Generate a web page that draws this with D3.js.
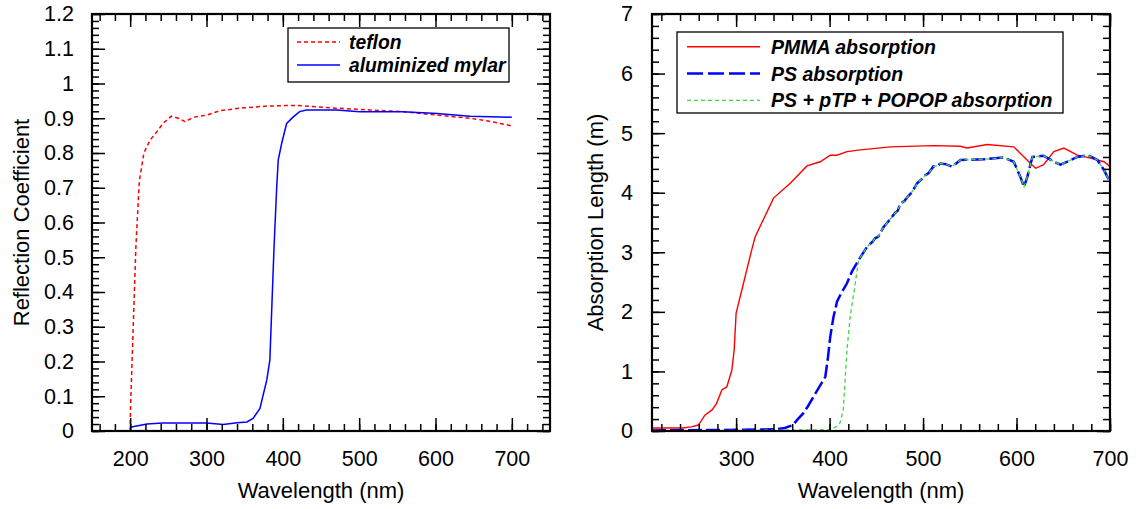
<!DOCTYPE html>
<html>
<head>
<meta charset="utf-8">
<script src="https://cdn.jsdelivr.net/npm/d3@7"></script>
<style>
  body { margin: 0; background: #fff; }
  svg text { font-family: "Liberation Sans", Arial, sans-serif; fill: #000; }
</style>
</head>
<body>
<svg id="chart" width="1139" height="509"></svg>
<script>
// ---- data ----
// left panel: reflection coefficient vs wavelength
const teflon = [
  [200, 0.0], [200.5, 0.07], [207.5, 0.53], [212, 0.72], [218, 0.80], [226, 0.837],
  [235, 0.861], [243, 0.885], [254, 0.906], [263, 0.90], [272, 0.89], [283, 0.903],
  [300, 0.909], [318, 0.922], [344, 0.929], [379, 0.935], [410, 0.937], [426, 0.936],
  [470, 0.929], [514, 0.924], [557, 0.919], [602, 0.909], [645, 0.90], [667, 0.893], [700, 0.878]
]
const mylar = [
  [200, 0.011], [222, 0.02], [243, 0.023], [300, 0.023], [322, 0.019], [340, 0.024],
  [353, 0.026], [361, 0.036], [370, 0.065], [379, 0.147], [383, 0.204], [388.5, 0.53],
  [392, 0.703], [394, 0.78], [398.5, 0.828], [405, 0.885], [413.7, 0.904], [422, 0.919],
  [431, 0.924], [470, 0.924], [501, 0.919], [557, 0.919], [602, 0.914], [645, 0.906], [700, 0.903]
]
// right panel: absorption length (m) vs wavelength
const pmma = [
  [210, 0.05], [243, 0.05], [252, 0.07], [259.6, 0.1], [266.8, 0.27], [274, 0.35],
  [279, 0.46], [284.7, 0.69], [290, 0.74], [295.4, 1.02], [297.9, 1.36], [300, 1.98],
  [307.9, 2.48], [316.8, 3.05], [320.4, 3.26], [340, 3.91], [357.9, 4.16], [375.8, 4.45],
  [390, 4.52], [400.7, 4.63], [407.9, 4.63], [418.6, 4.69], [432.9, 4.72], [465, 4.77],
  [511, 4.79], [540, 4.78], [547, 4.75], [568.6, 4.81], [597, 4.77], [608, 4.60],
  [615, 4.49], [620.4, 4.41], [629, 4.47], [640, 4.69], [650.7, 4.75], [665, 4.63],
  [679, 4.58], [693.6, 4.52], [700, 4.44]
]
const ps = [
  [210, 0.01], [300, 0.02], [343.6, 0.03], [352, 0.05], [360.7, 0.1], [366, 0.2], [372, 0.3],
  [377, 0.42], [382.9, 0.58], [389, 0.74], [395.4, 0.91], [398, 1.2], [400.7, 1.58], [404, 1.9],
  [407.9, 2.17], [412, 2.3], [418.6, 2.48], [424, 2.68], [431, 2.87],
  [440, 3.09], [446, 3.18], [449, 3.24], [452, 3.26], [458, 3.43], [463, 3.52], [466, 3.58],
  [470, 3.66], [473, 3.70], [475.7, 3.82], [480, 3.86], [484, 3.94], [487, 3.99], [490, 4.06],
  [493.6, 4.16], [498, 4.22], [502, 4.29], [506, 4.33], [511, 4.44], [515, 4.45], [518.6, 4.49],
  [524, 4.48], [531, 4.44], [536, 4.50], [540, 4.55], [565, 4.56], [586, 4.59], [597, 4.52],
  [604, 4.27], [608, 4.10], [611.6, 4.27], [617, 4.60], [629, 4.62], [640, 4.52],
  [647, 4.47], [665, 4.60], [676, 4.63], [686.5, 4.55], [693.6, 4.38], [698.9, 4.21], [700, 4.16]
]
const popop = [
  [210, 0.0], [400.7, 0.02], [408, 0.08], [411, 0.13], [414.6, 0.35], [418.6, 1.36],
  [422, 1.92], [427.5, 2.48], [431, 2.87]
].concat(ps.filter(d => d[0] > 431))

const leftXTicks = [200, 300, 400, 500, 600, 700]
const leftYTicks = [0, 0.1, 0.2, 0.3, 0.4, 0.5, 0.6, 0.7, 0.8, 0.9, 1, 1.1, 1.2]
const rightXTicks = [300, 400, 500, 600, 700]
const rightYTicks = [0, 1, 2, 3, 4, 5, 6, 7]

const svg = d3.select("#chart")

function panel(opt) {
  const g = svg.append("g")
  const x = d3.scaleLinear().domain(opt.xDomain).range([opt.left, opt.right])
  const y = d3.scaleLinear().domain(opt.yDomain).range([opt.bottom, opt.top])
  const clipId = "clip" + opt.left
  svg.append("clipPath").attr("id", clipId).append("rect")
    .attr("x", opt.left).attr("y", opt.top)
    .attr("width", opt.right - opt.left).attr("height", opt.bottom - opt.top)

  const line = d3.line().x(d => x(d[0])).y(d => y(d[1]))
  opt.series.forEach(s => {
    g.append("path").datum(s.data)
      .attr("d", line)
      .attr("clip-path", "url(#" + clipId + ")")
      .attr("fill", "none")
      .attr("stroke", s.color)
      .attr("stroke-width", s.width)
      .attr("stroke-dasharray", s.dash || null)
  })

  // minor ticks
  const minorAxes = [
    [d3.axisBottom(x), opt.bottom, 0, opt.xMinor],
    [d3.axisTop(x), opt.top, 0, opt.xMinor],
    [d3.axisLeft(y), opt.left, 1, opt.yMinor],
    [d3.axisRight(y), opt.right, 1, opt.yMinor]
  ]
  minorAxes.forEach(([ax, pos, vert, vals]) => {
    const a = g.append("g")
      .attr("transform", vert ? `translate(${pos},0)` : `translate(0,${pos})`)
      .call(ax.tickValues(vals).tickSize(-7).tickFormat(""))
    a.select(".domain").remove()
    a.selectAll("line").attr("stroke", "#000").attr("stroke-width", 1.5)
  })
  // major ticks
  const majorAxes = [
    [d3.axisBottom(x), opt.bottom, 0, opt.xTicks, true],
    [d3.axisTop(x), opt.top, 0, opt.xTicks, false],
    [d3.axisLeft(y), opt.left, 1, opt.yTicks, true],
    [d3.axisRight(y), opt.right, 1, opt.yTicks, false]
  ]
  majorAxes.forEach(([ax, pos, vert, vals, labels]) => {
    const a = g.append("g")
      .attr("transform", vert ? `translate(${pos},0)` : `translate(0,${pos})`)
      .call(ax.tickValues(vals).tickSize(-13).tickPadding(vert ? opt.yPad : 20)
        .tickFormat(labels ? d3.format("") : ""))
    a.select(".domain").remove()
    a.selectAll("line").attr("stroke", "#000").attr("stroke-width", 1.5)
    a.selectAll("text").style("font-size", "21.5px")
      .style("font-family", "Liberation Sans, Arial, sans-serif")
  })

  // frame
  g.append("rect")
    .attr("x", opt.left).attr("y", opt.top)
    .attr("width", opt.right - opt.left).attr("height", opt.bottom - opt.top)
    .attr("fill", "none").attr("stroke", "#000").attr("stroke-width", 2.2)

  // axis titles
  g.append("text")
    .attr("x", (opt.left + opt.right) / 2).attr("y", 498)
    .attr("text-anchor", "middle").style("font-size", "22px")
    .text(opt.xTitle)
  g.append("text")
    .attr("transform", `translate(${opt.yTitleX},${(opt.top + opt.bottom) / 2}) rotate(-90)`)
    .attr("text-anchor", "middle").style("font-size", "22px")
    .text(opt.yTitle)

  // legend
  const L = opt.legend
  g.append("rect")
    .attr("x", L.x).attr("y", L.y).attr("width", L.w).attr("height", L.h)
    .attr("fill", "#fff").attr("stroke", "#000").attr("stroke-width", 1.3)
  opt.series.forEach((s, i) => {
    const cy = L.y + L.first + i * L.step
    g.append("line")
      .attr("x1", L.x + L.lx0).attr("x2", L.x + L.lx1)
      .attr("y1", cy).attr("y2", cy)
      .attr("stroke", s.color).attr("stroke-width", s.width)
      .attr("stroke-dasharray", s.legendDash || s.dash || null)
    g.append("text")
      .attr("x", L.x + L.tx).attr("y", cy + 7)
      .style("font-size", L.fs + "px").style("font-weight", "bold").style("font-style", "italic")
      .text(s.name)
  })
}

const range = (a, b, s) => d3.range(a, b + s / 2, s)

panel({
  left: 92, right: 550, top: 14, bottom: 431,
  xDomain: [150, 750], yDomain: [0, 1.2],
  xTicks: leftXTicks, yTicks: leftYTicks, yPad: 18,
  xMinor: range(160, 740, 20), yMinor: range(0, 1.2, 0.02).map(v => +v.toFixed(2)),
  xTitle: "Wavelength (nm)", yTitle: "Reflection Coefficient", yTitleX: 29,
  series: [
    { name: "teflon", data: teflon, color: "#ff0000", width: 1.5, dash: "4,3" },
    { name: "aluminized mylar", data: mylar, color: "#0000ff", width: 1.5 }
  ],
  legend: { x: 288, y: 28, w: 221, h: 54, first: 14, step: 23, lx0: 9, lx1: 52, tx: 61, fs: 19.3 }
})

panel({
  left: 652, right: 1110, top: 14, bottom: 431,
  xDomain: [210, 700], yDomain: [0, 7],
  xTicks: rightXTicks, yTicks: rightYTicks, yPad: 19,
  xMinor: range(220, 700, 20), yMinor: range(0, 7, 0.2).map(v => +v.toFixed(1)),
  xTitle: "Wavelength (nm)", yTitle: "Absorption Length (m)", yTitleX: 603,
  series: [
    { name: "PMMA absorption", data: pmma, color: "#ff0000", width: 1.4 },
    { name: "PS absorption", data: ps, color: "#0000ff", width: 2.5, dash: "14,4", legendDash: "16,5" },
    { name: "PS + pTP + POPOP absorption", data: popop, color: "#44d444", width: 1.3, dash: "4,3" }
  ],
  legend: { x: 677, y: 32, w: 386, h: 81, first: 14.7, step: 26.8, lx0: 10, lx1: 83, tx: 94, fs: 19.5 }
})
</script>
</body>
</html>
